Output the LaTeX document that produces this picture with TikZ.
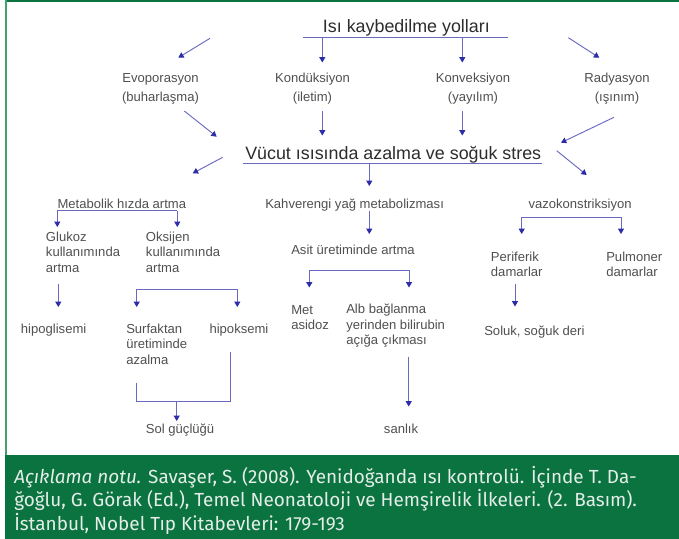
\documentclass[tikz,border=0pt]{standalone}
\usepackage{fontspec}
\setmainfont{Liberation Sans}
\newfontfamily\capfont{Fira Sans}
\usetikzlibrary{arrows.meta}
\definecolor{capgreen}{RGB}{11,115,64}
\definecolor{edgegreen}{RGB}{70,160,110}
\definecolor{arrowblue}{RGB}{105,105,195}
\definecolor{headblue}{RGB}{45,45,170}
\definecolor{txt}{RGB}{80,80,80}
\definecolor{bigtxt}{RGB}{45,45,45}
\definecolor{captxt}{RGB}{228,238,232}
\newcommand{\linesl}[1]{\begin{tabular}[t]{@{}l@{}}#1\end{tabular}}
\newcommand{\linesc}[1]{\begin{tabular}[t]{@{}c@{}}#1\end{tabular}}
\tikzset{
  lbl/.style={inner sep=0pt, anchor=base west, text=txt, font=\fontsize{9.8}{11.7}\selectfont},
  toplbl/.style={inner sep=0pt, anchor=base, text=txt, font=\fontsize{9.8}{14.3}\selectfont},
  big/.style={inner sep=0pt, anchor=base west, text=bigtxt, font=\fontsize{13.4}{16}\selectfont},
  ln/.style={draw=arrowblue, line width=0.7pt},
  arr/.style={ln, -{Triangle[length=4pt,width=4.5pt,color=headblue]}},
}
\begin{document}
\begin{tikzpicture}[x=0.75pt, y=-0.75pt]
\useasboundingbox (0,0) rectangle (679,539);
% frame
\fill[white] (0,0) rectangle (679,539);
\fill[capgreen] (5,455) rectangle (679,539);
\fill[capgreen] (5,0) rectangle (679,2.3);
\fill[edgegreen] (5,0) rectangle (7.3,455);

% top level
\node[big] (title) at (322.7,32) {Isı kaybedilme yolları};
\node[toplbl] (evo) at (160.5,82.5) {\linesc{Evoporasyon\\(buharlaşma)}};
\node[toplbl] (kond) at (312.5,82.5) {\linesc{Kondüksiyon\\(iletim)}};
\node[toplbl] (konv) at (473,82.5) {\linesc{Konveksiyon\\(yayılım)}};
\node[toplbl] (rad) at (617,82.5) {\linesc{Radyasyon\\(ışınım)}};
\node[big] (vucut) at (245,159) {Vücut ısısında azalma ve soğuk stres};

% row 3
\node[lbl] (meta) at (57.3,208) {Metabolik hızda artma};
\node[lbl] (kahve) at (265,208) {Kahverengi yağ metabolizması};
\node[lbl] (vazo) at (528.3,208) {vazokonstriksiyon};

\node[lbl] (gluk) at (45.7,241) {\linesl{Glukoz\\kullanımında\\artma}};
\node[lbl] (oks) at (145.7,241) {\linesl{Oksijen\\kullanımında\\artma}};
\node[lbl] (asit) at (291,254.5) {Asit üretiminde artma};
\node[lbl] (peri) at (490.7,261) {\linesl{Periferik\\damarlar}};
\node[lbl] (pulm) at (606,261) {\linesl{Pulmoner\\damarlar}};

\node[lbl] (met) at (291,314) {\linesl{Met\\asidoz}};
\node[lbl] (alb) at (346,313.5) {\linesl{Alb bağlanma\\yerinden bilirubin\\açığa çıkması}};
\node[lbl] (hipog) at (20.7,333) {hipoglisemi};
\node[lbl] (surf) at (126,333) {\linesl{Surfaktan\\üretiminde\\azalma}};
\node[lbl] (hipok) at (209.3,333) {hipoksemi};
\node[lbl] (soluk) at (484,335) {Soluk, soğuk deri};
\node[lbl] (sol) at (145.7,433) {Sol güçlüğü};
\node[lbl] (sari) at (383.7,433) {sanlık};

% coordinates
\coordinate (tuL) at (303,37.7);
\coordinate (tuR) at (508,37.7);
\coordinate (tuK) at (322.3,37.7);
\coordinate (tuV) at (462.3,37.7);
\coordinate (kondIn) at (322.3,62.5);
\coordinate (konvIn) at (462.3,62.5);
\coordinate (evoA) at (210,38.3);
\coordinate (evoB) at (178.3,57.7);
\coordinate (radA) at (568.3,37.7);
\coordinate (radB) at (599.3,57.7);
\coordinate (kondOut) at (322.3,111);
\coordinate (kondV) at (322.3,135.5);
\coordinate (konvOut) at (462.3,111);
\coordinate (konvV) at (462.3,135.5);
\coordinate (evoOut) at (184.3,111);
\coordinate (evoV) at (216.7,136.7);
\coordinate (radOut) at (614,117.3);
\coordinate (radV) at (561,142.7);
\coordinate (vuL) at (243,163.3);
\coordinate (vuR) at (542,163.3);
\coordinate (vuM) at (369.3,163.3);
\coordinate (kahveIn) at (369.3,186);
\coordinate (vlA) at (222.7,157.3);
\coordinate (vlB) at (192.7,173.3);
\coordinate (vrA) at (556.7,150.7);
\coordinate (vrB) at (586.7,175);
\coordinate (kahveOut) at (369.3,210.7);
\coordinate (asitIn) at (369.3,234);
\coordinate (mbL) at (57.3,210.7);
\coordinate (mbR) at (177.3,210.7);
\coordinate (glukIn) at (57.3,227);
\coordinate (oksIn) at (177.3,227);
\coordinate (vzL) at (521.7,217.3);
\coordinate (vzR) at (621,217.3);
\coordinate (periIn) at (521.7,234);
\coordinate (pulmIn) at (621,234);
\coordinate (abL) at (309.3,270);
\coordinate (abR) at (409,270);
\coordinate (metIn) at (309.3,287.5);
\coordinate (albIn) at (409,287.5);
\coordinate (glukOut) at (58.3,284);
\coordinate (hipogIn) at (58.3,307);
\coordinate (obL) at (136.7,289.3);
\coordinate (obR) at (237.3,289.3);
\coordinate (surfIn) at (136.7,307);
\coordinate (hipokIn) at (237.3,307);
\coordinate (periOut) at (515,284);
\coordinate (solukIn) at (515,306.5);
\coordinate (albOut) at (408.7,356.7);
\coordinate (sariIn) at (408.7,406.5);
\coordinate (surfOut) at (136.7,382.7);
\coordinate (hipokOut) at (230,351.7);
\coordinate (sbL) at (136.7,401.7);
\coordinate (sbR) at (230,401.7);
\coordinate (sbM) at (176.7,401.7);
\coordinate (solIn) at (176.7,421);

% connectors
\draw[ln] (tuL) -- (tuR);
\draw[arr] (tuK) -- (kondIn);
\draw[arr] (tuV) -- (konvIn);
\draw[arr] (evoA) -- (evoB);
\draw[arr] (radA) -- (radB);
\draw[arr] (kondOut) -- (kondV);
\draw[arr] (konvOut) -- (konvV);
\draw[arr] (evoOut) -- (evoV);
\draw[arr] (radOut) -- (radV);
\draw[ln] (vuL) -- (vuR);
\draw[arr] (vuM) -- (kahveIn);
\draw[arr] (vlA) -- (vlB);
\draw[arr] (vrA) -- (vrB);
\draw[arr] (kahveOut) -- (asitIn);
\draw[ln] (mbL) -- (mbR);
\draw[arr] (mbL) -- (glukIn);
\draw[arr] (mbR) -- (oksIn);
\draw[ln] (vzL) -- (vzR);
\draw[arr] (vzL) -- (periIn);
\draw[arr] (vzR) -- (pulmIn);
\draw[ln] (abL) -- (abR);
\draw[arr] (abL) -- (metIn);
\draw[arr] (abR) -- (albIn);
\draw[arr] (glukOut) -- (hipogIn);
\draw[ln] (obL) -- (obR);
\draw[arr] (obL) -- (surfIn);
\draw[arr] (obR) -- (hipokIn);
\draw[arr] (periOut) -- (solukIn);
\draw[arr] (albOut) -- (sariIn);
\draw[ln] (surfOut) -- (sbL) -- (sbR) -- (hipokOut);
\draw[arr] (sbM) -- (solIn);

% caption
\node[inner sep=0pt, anchor=base west, text=captxt, font=\capfont\fontsize{14.2}{15.9}\selectfont] (cap) at (14,483)
  {\linesl{\textit{Açıklama notu.} Savaşer, S. (2008). Yenidoğanda ısı kontrolü. İçinde T. Da-\\ğoğlu, G. Görak (Ed.), Temel Neonatoloji ve Hemşirelik İlkeleri. (2. Basım).\\İstanbul, Nobel Tıp Kitabevleri: 179-193}};
\end{tikzpicture}
\end{document}
